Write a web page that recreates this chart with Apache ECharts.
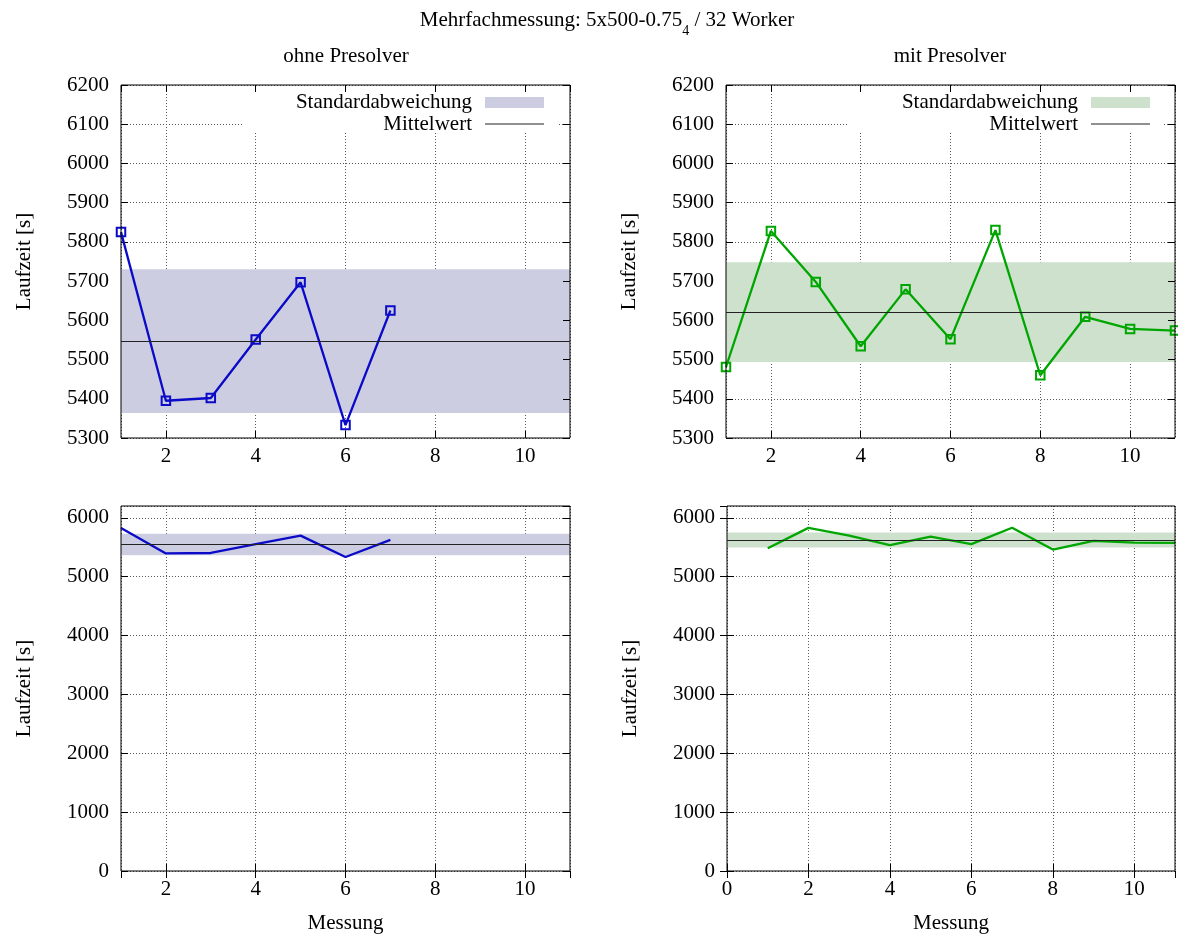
<!DOCTYPE html>
<html>
<head>
<meta charset="utf-8">
<script src="https://cdn.jsdelivr.net/npm/echarts@6/dist/echarts.min.js"></script>
<style>
html,body{margin:0;padding:0;background:#fff;}
#c{width:1178px;height:938px;}
</style>
</head>
<body>
<div id="c"></div>
<script>
// ---- data ----
const messungOhne = [1, 2, 3, 4, 5, 6, 7];
const laufzeitOhne = [5825, 5395, 5402, 5551, 5697, 5333, 5625];
const messungMit = [1, 2, 3, 4, 5, 6, 7, 8, 9, 10, 11];
const laufzeitMit = [5481, 5828, 5698, 5534, 5679, 5552, 5830, 5460, 5609, 5578, 5574];
const mittelwert = [5547, 5621];       // ohne, mit
const standardabweichung = [183, 127]; // ohne, mit
const panelTitles = ['ohne Presolver', 'mit Presolver'];
const legendNames = ['Standardabweichung', 'Mittelwert'];
const yTop = [5300, 6200, 100];    // min, max, step
const yBottom = [0, 6200, 1000];   // min, max, step
const xRanges = [[1, 11], [1, 11], [1, 11], [0, 11]];

// ---- styling ----
const FONT = 'Liberation Serif';
const FS = 21;
const lineColors = ['#0a0ac8', '#00a600'];
const bandColors = ['#cdcde1', '#cde1cd'];

const grids = [
  {left: 121, top: 85, width: 449, height: 353},
  {left: 726, top: 85, width: 449, height: 353},
  {left: 121, top: 506, width: 449, height: 365},
  {left: 727, top: 506, width: 448, height: 365}
].map(g => Object.assign(g, {show: true, borderColor: '#000', borderWidth: 1, backgroundColor: 'transparent', z: 5, containLabel: false}));

const gridLine = {show: true, lineStyle: {color: '#5a5a5a', type: [1, 2], width: 1}};
const tick = {show: true, inside: true, length: 7, lineStyle: {color: '#000', width: 1}};
const plain = v => String(v);

const xAxes = [], yAxes = [];
for (let i = 0; i < 4; i++) {
  const [xmin, xmax] = xRanges[i];
  const yr = i < 2 ? yTop : yBottom;
  xAxes.push({
    type: 'value', gridIndex: i, min: xmin, max: xmax, splitNumber: 5, position: 'bottom',
    axisLine: {show: false}, axisTick: tick,
    axisLabel: {color: '#000', fontFamily: FONT, fontSize: FS, margin: 8, formatter: plain, showMinLabel: xmin === 0, showMaxLabel: false},
    splitLine: gridLine,
    name: i >= 2 ? 'Messung' : '', nameLocation: 'middle', nameGap: 42,
    nameTextStyle: {color: '#000', fontFamily: FONT, fontSize: FS}
  });
  yAxes.push({
    type: 'value', gridIndex: i, min: yr[0], max: yr[1], interval: yr[2], position: 'left',
    axisLine: {show: false}, axisTick: tick,
    axisLabel: {color: '#000', fontFamily: FONT, fontSize: FS, margin: 12, formatter: plain, showMaxLabel: i < 2},
    splitLine: gridLine,
    name: 'Laufzeit [s]', nameLocation: 'middle', nameRotate: 90, nameGap: 86,
    nameTextStyle: {color: '#000', fontFamily: FONT, fontSize: FS}
  });
}
// mirrored ticks on top / right
for (let i = 0; i < 4; i++) {
  const [xmin, xmax] = xRanges[i];
  const yr = i < 2 ? yTop : yBottom;
  xAxes.push({
    type: 'value', gridIndex: i, min: xmin, max: xmax, splitNumber: 5, position: 'top', z: 6,
    axisLine: {show: false}, axisTick: tick, axisLabel: {show: false}, splitLine: {show: false}
  });
  yAxes.push({
    type: 'value', gridIndex: i, min: yr[0], max: yr[1], interval: yr[2], position: 'right', z: 6,
    axisLine: {show: false}, axisTick: tick, axisLabel: {show: false}, splitLine: {show: false}
  });
}

const series = [];
for (let i = 0; i < 4; i++) {
  const k = i % 2;               // 0 = ohne, 1 = mit
  const top = i < 2;
  const xs = k === 0 ? messungOhne : messungMit;
  const ys = k === 0 ? laufzeitOhne : laufzeitMit;
  const m = mittelwert[k], s = standardabweichung[k];
  series.push({
    type: 'line', name: legendNames[0], xAxisIndex: i, yAxisIndex: i, data: [], silent: true,
    itemStyle: {color: bandColors[k]},
    markArea: {silent: true, label: {show: false}, itemStyle: {color: bandColors[k], opacity: 1, borderWidth: 0},
      data: [[{yAxis: m - s}, {yAxis: m + s}]]}
  });
  series.push({
    type: 'line', name: legendNames[1], xAxisIndex: i, yAxisIndex: i, data: [], silent: true,
    itemStyle: {color: '#000'},
    markLine: {silent: true, symbol: ['none', 'none'], label: {show: false},
      lineStyle: {color: '#222', width: 1, type: 'solid'}, emphasis: {disabled: true},
      data: [{yAxis: m}]}
  });
  series.push({
    type: 'line', name: 'data' + i, xAxisIndex: i, yAxisIndex: i, silent: true, clip: false,
    data: xs.map((x, j) => [x, ys[j]]),
    symbol: top ? 'rect' : 'none', symbolSize: 8.5, showSymbol: top,
    itemStyle: {color: 'rgba(0,0,0,0)', borderColor: lineColors[k], borderWidth: 2},
    lineStyle: {color: lineColors[k], width: 2.3}, z: 3
  });
}

function legendFor(k, nameIdx) {
  const rightEdge = k === 0 ? 544 : 1150;
  const item = nameIdx === 0
    ? {name: legendNames[0], icon: 'rect', itemStyle: {color: bandColors[k]}}
    : {name: legendNames[1], icon: 'rect', itemStyle: {color: '#222'}};
  return {
    show: true, selectedMode: false, orient: 'horizontal', align: 'right', padding: 0,
    right: 1178 - rightEdge, top: nameIdx === 0 ? 92 : 113.5,
    itemWidth: 59, itemHeight: nameIdx === 0 ? 11 : 1,
    data: [item],
    textStyle: {color: '#000', fontFamily: FONT, fontSize: FS, padding: [0, 8, 0, 0]}
  };
}

const option = {
  animation: false,
  backgroundColor: '#fff',
  grid: grids,
  xAxis: xAxes,
  yAxis: yAxes,
  series: series,
  legend: [legendFor(0, 0), legendFor(0, 1), legendFor(1, 0), legendFor(1, 1)],
  graphic: [
    {type: 'rect', z: 3, silent: true, shape: {x: 243, y: 86, width: 314, height: 47}, style: {fill: '#fff'}},
    {type: 'rect', z: 3, silent: true, shape: {x: 848, y: 86, width: 314, height: 47}, style: {fill: '#fff'}},
    {type: 'text', x: 607, y: 20, silent: true, style: {
      text: '{a|Mehrfachmessung: 5x500-0.75}{s|4}{a| / 32 Worker}',
      align: 'center', verticalAlign: 'middle', fill: '#000',
      rich: {
        a: {fontFamily: FONT, fontSize: FS, fill: '#000'},
        s: {fontFamily: FONT, fontSize: 14, fill: '#000', padding: [22, 0, 0, 0]}
      }}},
    {type: 'text', x: 346, y: 56, silent: true, style: {text: panelTitles[0], align: 'center', verticalAlign: 'middle', fill: '#000', font: FS + 'px "' + FONT + '"'}},
    {type: 'text', x: 950, y: 56, silent: true, style: {text: panelTitles[1], align: 'center', verticalAlign: 'middle', fill: '#000', font: FS + 'px "' + FONT + '"'}}
  ]
};

const chart = echarts.init(document.getElementById('c'), null, {renderer: 'canvas'});
chart.setOption(option);
</script>
</body>
</html>
